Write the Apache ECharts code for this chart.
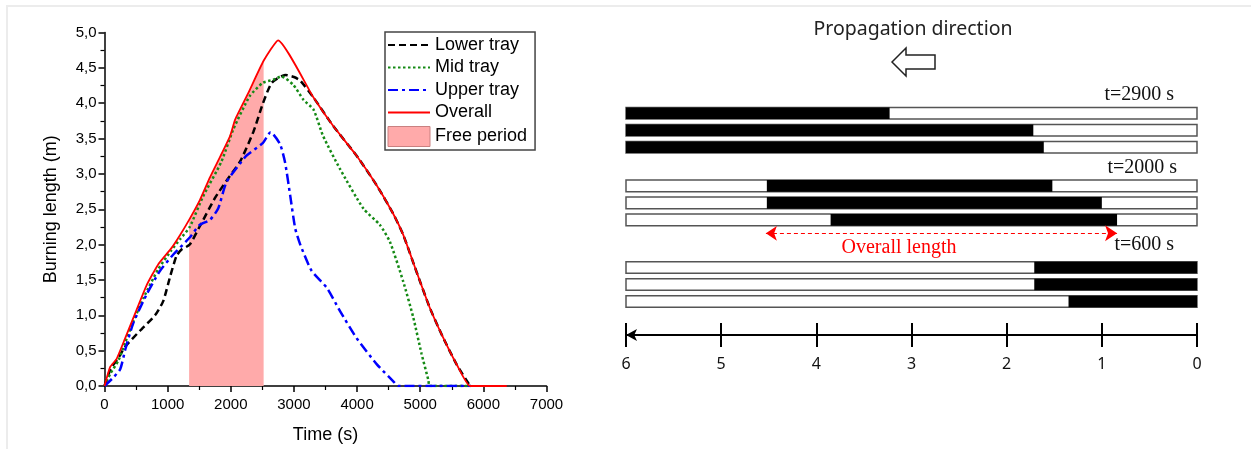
<!DOCTYPE html>
<html>
<head>
<meta charset="utf-8">
<script src="https://cdn.jsdelivr.net/npm/echarts@6/dist/echarts.min.js"></script>
<style>
  html, body { margin: 0; padding: 0; background: #fff; }
  #chart { width: 1251px; height: 449px; }
</style>
</head>
<body>
<div id="chart"></div>
<script>
// left panel: burning length over time, [time (s), length (m)]
const lowerTray = [[0,0],[100,0.25],[200,0.37],[330,0.56],[560,0.78],[800,1.0],[930,1.2],[1040,1.55],[1140,1.84],[1220,1.93],[1350,2.0],[1510,2.26],[1750,2.66],[1930,2.9],[2150,3.18],[2360,3.6],[2510,4.0],[2650,4.29],[2860,4.4],[3000,4.37],[3100,4.32],[3310,4.08],[3620,3.68],[3990,3.26],[4310,2.84],[4570,2.44],[4730,2.14],[4940,1.62],[5150,1.11],[5360,0.69],[5580,0.3],[5790,0]];
const midTray = [[0,0],[90,0.17],[220,0.36],[330,0.62],[460,0.92],[620,1.25],[850,1.65],[1060,1.92],[1200,2.08],[1350,2.25],[1560,2.68],[1850,3.17],[2040,3.63],[2300,4.1],[2510,4.29],[2670,4.33],[2800,4.38],[2990,4.26],[3150,4.05],[3310,3.91],[3460,3.54],[3730,3.07],[4100,2.51],[4360,2.28],[4520,2.04],[4730,1.48],[4890,0.97],[5020,0.46],[5130,0.08],[5150,0],[5800,0]];
const upperTray = [[0,0],[140,0.12],[250,0.24],[330,0.52],[460,0.9],[670,1.3],[880,1.63],[1090,1.86],[1350,2.1],[1510,2.28],[1670,2.35],[1800,2.51],[1930,2.88],[2150,3.15],[2250,3.26],[2510,3.44],[2630,3.59],[2780,3.42],[2860,3.16],[2940,2.7],[3020,2.23],[3100,2.0],[3280,1.63],[3520,1.39],[3730,1.06],[3990,0.68],[4310,0.31],[4570,0.07],[4650,0],[5800,0]];
const overall = [[0,0],[90,0.27],[190,0.38],[320,0.66],[460,0.97],[670,1.43],[850,1.72],[1060,1.95],[1200,2.14],[1340,2.35],[1510,2.63],[1670,2.95],[1830,3.24],[1990,3.54],[2070,3.77],[2280,4.15],[2520,4.6],[2750,4.89],[3310,4.08],[3620,3.68],[3990,3.26],[4310,2.84],[4570,2.44],[4730,2.14],[4940,1.62],[5150,1.11],[5360,0.69],[5580,0.3],[5790,0],[6370,0]];
const freePeriod = [1340, 2520];

// right panel: burnt part of each tray (m from the start), one row per tray
const snapshots = ['t=2900 s', 't=2000 s', 't=600 s'];
const burnt2900 = [[3.23, 6], [1.72, 6], [1.61, 6]];
const burnt2000 = [[1.52, 4.52], [1.0, 4.52], [0.84, 3.85]];
const burnt600 = [[0, 1.71], [0, 1.71], [0, 1.35]];
const overallSpan2000 = [0.84, 4.53];
const trayLength = 6;

const chart = echarts.init(document.getElementById('chart'));

// row slots on the hidden y axis of the tray diagram
const groupStart = [0, 4.27, 9.07];
const arrowSlot = 7.06;
const trayRows = [];
[burnt2900, burnt2000, burnt600].forEach((g, gi) => {
  g.forEach((seg, k) => trayRows.push([groupStart[gi] + k, seg[0], seg[1]]));
});

const comma = v => v.toFixed(1).replace('.', ',');
const sans = 'Liberation Sans';

const option = {
  animation: false,
  grid: [
    { left: 104.5, right: 704.5, top: 32.5, bottom: 60 },
    { left: 626, right: 54, top: 104.8, height: 204 },
    { left: 626, right: 54, top: 325, height: 10 }
  ],
  legend: {
    left: 385, top: 32, orient: 'vertical',
    selectedMode: false,
    borderColor: '#444', borderWidth: 1.5,
    padding: [4, 8, 3, 2],
    itemWidth: 42, itemHeight: 20, itemGap: 4.5,
    itemStyle: { opacity: 0 },
    textStyle: { fontFamily: sans, fontSize: 18, color: '#000' },
    data: [
      { name: 'Lower tray' }, { name: 'Mid tray' }, { name: 'Upper tray' }, { name: 'Overall' },
      { name: 'Free period', icon: 'rect', itemStyle: { opacity: 1, borderColor: '#c98080', borderWidth: 1 } }
    ]
  },
  xAxis: [
    {
      gridIndex: 0, type: 'value', min: 0, max: 7000, interval: 1000,
      name: 'Time (s)', nameLocation: 'middle', nameGap: 40,
      nameTextStyle: { fontFamily: sans, fontSize: 18, color: '#000' },
      axisLine: { lineStyle: { color: '#000', width: 1.5 } },
      axisTick: { length: 6, lineStyle: { width: 1.5 } },
      minorTick: { show: true, splitNumber: 2, length: 4, lineStyle: { color: '#000', width: 1.2 } },
      axisLabel: { fontFamily: sans, fontSize: 15, color: '#000', margin: 11, formatter: v => String(v) },
      splitLine: { show: false }
    },
    { gridIndex: 1, type: 'value', min: 0, max: trayLength, inverse: true, show: false },
    {
      gridIndex: 2, type: 'value', min: 0, max: trayLength, interval: 1, inverse: true,
      axisLine: { symbol: ['arrow', 'none'], symbolSize: [9, 11], lineStyle: { color: '#000', width: 2 } },
      axisTick: { length: 12, lineStyle: { width: 2 } },
      axisLabel: { fontFamily: 'Noto Sans', fontSize: 16, color: '#111', margin: 21 },
      splitLine: { show: false }
    },
    {
      gridIndex: 2, type: 'value', min: 0, max: trayLength, interval: 1, inverse: true, position: 'bottom',
      axisLine: { show: false },
      axisTick: { inside: true, length: 12, lineStyle: { color: '#000', width: 2 } },
      axisLabel: { show: false },
      splitLine: { show: false }
    }
  ],
  yAxis: [
    {
      gridIndex: 0, type: 'value', min: 0, max: 5, interval: 0.5,
      name: 'Burning length (m)', nameLocation: 'middle', nameGap: 44,
      nameTextStyle: { fontFamily: sans, fontSize: 18, color: '#000' },
      axisLine: { show: true, lineStyle: { color: '#000', width: 1.5 } },
      axisTick: { show: true, length: 6, lineStyle: { width: 1.5 } },
      minorTick: { show: true, splitNumber: 2, length: 4, lineStyle: { color: '#000', width: 1.2 } },
      axisLabel: { fontFamily: sans, fontSize: 15, color: '#000', margin: 8, formatter: comma },
      splitLine: { show: false }
    },
    { gridIndex: 1, type: 'value', min: -0.5, max: 11.5, inverse: true, show: false },
    { gridIndex: 2, type: 'value', show: false }
  ],
  series: [
    {
      name: 'Free period', type: 'line', xAxisIndex: 0, yAxisIndex: 0, z: 1,
      color: '#ffaaaa', showSymbol: false, symbol: 'none',
      lineStyle: { width: 0 },
      areaStyle: { color: '#ffaaaa', opacity: 1 },
      data: overall.filter(p => p[0] >= freePeriod[0] && p[0] <= freePeriod[1])
    },
    {
      name: 'Lower tray', type: 'line', z: 3, color: '#000', symbol: 'none', smooth: 0.2,
      lineStyle: { width: 2.5, type: [7, 4] }, data: lowerTray
    },
    {
      name: 'Mid tray', type: 'line', z: 3, color: '#158a15', symbol: 'none', smooth: 0.2,
      lineStyle: { width: 2.5, type: [2.5, 2.5] }, data: midTray
    },
    {
      name: 'Upper tray', type: 'line', z: 3, color: '#0000ff', symbol: 'none', smooth: 0.2,
      lineStyle: { width: 2.5, type: [10, 4, 3, 4] }, data: upperTray
    },
    {
      name: 'Overall', type: 'line', z: 4, color: '#ff0000', symbol: 'none', smooth: 0.15,
      lineStyle: { width: 1.8 }, data: overall
    },
    {
      type: 'custom', xAxisIndex: 1, yAxisIndex: 1, silent: true,
      data: trayRows,
      renderItem: (params, api) => {
        const y = api.value(0);
        const a = api.coord([trayLength, y]);
        const b = api.coord([0, y]);
        const c0 = api.coord([api.value(2), y]);
        const c1 = api.coord([api.value(1), y]);
        const h = api.size([0, 1])[1] * 0.68;
        return {
          type: 'group',
          children: [
            { type: 'rect', shape: { x: a[0], y: a[1] - h / 2, width: b[0] - a[0], height: h },
              style: { fill: '#fff', stroke: '#555', lineWidth: 1.5 } },
            { type: 'rect', shape: { x: c0[0], y: c0[1] - h / 2, width: c1[0] - c0[0], height: h },
              style: { fill: '#000' } }
          ]
        };
      }
    },
    {
      type: 'lines', coordinateSystem: 'cartesian2d', xAxisIndex: 1, yAxisIndex: 1, silent: true,
      symbol: ['arrow', 'arrow'], symbolSize: [11, 12],
      lineStyle: { color: '#ff0000', width: 1.2, type: [4, 3], opacity: 1 },
      data: [{ coords: [[overallSpan2000[1], arrowSlot], [overallSpan2000[0], arrowSlot]] }]
    }
  ],
  graphic: [
    { type: 'polyline', silent: true, shape: { points: [[7, 449], [7, 6], [1251, 6]] },
      style: { stroke: '#ececec', lineWidth: 2, fill: null } },
    { type: 'text', x: 913, y: 29, silent: true,
      style: { text: 'Propagation direction', font: '19.5px "Noto Sans"', fill: '#222', align: 'center', verticalAlign: 'middle' } },
    { type: 'polygon', silent: true,
      shape: { points: [[892, 62], [906, 48], [906, 55], [935, 55], [935, 69], [906, 69], [906, 76]] },
      style: { fill: '#fff', stroke: '#222', lineWidth: 1.5 } },
    { type: 'text', x: 1174, y: 95, silent: true,
      style: { text: snapshots[0], font: '20px "Liberation Serif"', fill: '#111', align: 'right', verticalAlign: 'middle' } },
    { type: 'text', x: 1177, y: 168, silent: true,
      style: { text: snapshots[1], font: '20px "Liberation Serif"', fill: '#111', align: 'right', verticalAlign: 'middle' } },
    { type: 'text', x: 1174, y: 245, silent: true,
      style: { text: snapshots[2], font: '20px "Liberation Serif"', fill: '#111', align: 'right', verticalAlign: 'middle' } },
    { type: 'text', x: 899, y: 248, silent: true,
      style: { text: 'Overall length', font: '20px "Liberation Serif"', fill: '#ff0000', align: 'center', verticalAlign: 'middle' } }
  ]
};

chart.setOption(option);
</script>
</body>
</html>
